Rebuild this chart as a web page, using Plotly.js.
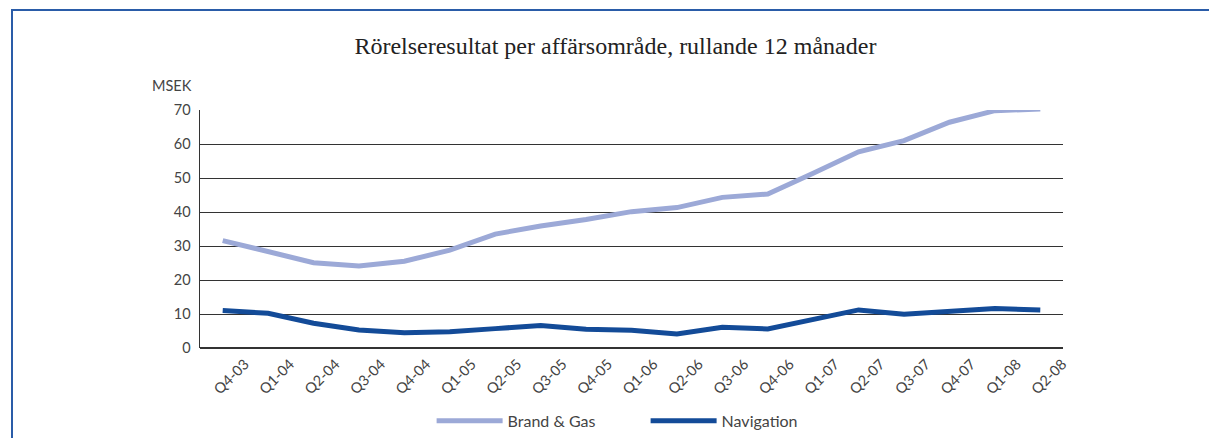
<!DOCTYPE html>
<html>
<head>
<meta charset="utf-8">
<script src="https://cdn.plot.ly/plotly-3.0.1.min.js"></script>
<style>
html,body{margin:0;padding:0;background:#fff;}
#wrap{position:relative;width:1209px;height:438px;}
#chart{width:1209px;height:438px;}
#frame{position:absolute;left:11px;top:9px;right:0;bottom:0;border-top:2px solid #2a5ca8;border-left:2px solid #2a5ca8;pointer-events:none;}
</style>
</head>
<body>
<div id="wrap"><div id="chart"></div><div id="frame"></div></div>
<script>
const categories = ["Q4-03","Q1-04","Q2-04","Q3-04","Q4-04","Q1-05","Q2-05","Q3-05","Q4-05","Q1-06","Q2-06","Q3-06","Q4-06","Q1-07","Q2-07","Q3-07","Q4-07","Q1-08","Q2-08"];
const brandGas = [31.6,28.3,25.1,24.1,25.5,28.8,33.5,35.9,37.8,40.1,41.3,44.3,45.3,51.4,57.7,61.0,66.4,69.8,70.3];
const navigation = [11.0,10.2,7.3,5.3,4.5,4.8,5.7,6.6,5.5,5.2,4.1,6.1,5.6,8.4,11.2,9.9,10.8,11.6,11.2];
const yTicks = [0,10,20,30,40,50,60,70];

const tickFont = {family: "Lato, 'Open Sans', sans-serif", size: 14.5, color: "#444"};
const legendFont = {family: "Lato, 'Open Sans', sans-serif", size: 16, color: "#444"};

const traces = [
  {x: categories, y: brandGas, name: "Brand & Gas", type: "scatter", mode: "lines",
   line: {color: "#9ca9d7", width: 5}},
  {x: categories, y: navigation, name: "Navigation", type: "scatter", mode: "lines",
   line: {color: "#134b98", width: 5}}
];

const layout = {
  width: 1209, height: 438,
  margin: {l: 200, r: 146, t: 110, b: 90},
  paper_bgcolor: "#fff", plot_bgcolor: "#fff",
  title: {text: "Rörelseresultat per affärsområde, rullande 12 månader",
    font: {family: "'Liberation Serif', 'DejaVu Serif', serif", size: 24, color: "#222"},
    xref: "container", x: 0.509, xanchor: "center",
    yref: "container", y: 0.897, yanchor: "middle"},
  xaxis: {type: "category", tickangle: -45, tickfont: tickFont,
    showgrid: false, zeroline: false, showline: false, ticks: "",
    ticklabelshift: 22, ticklabelstandoff: 4, range: [-0.5, 18.5]},
  yaxis: {range: [0, 70], tickvals: yTicks, tickfont: tickFont,
    showgrid: true, gridcolor: "#333", gridwidth: 1,
    zeroline: true, zerolinecolor: "#333", zerolinewidth: 1.5,
    showline: true, linecolor: "#333", linewidth: 1.5,
    ticks: "", ticklabelstandoff: 5, fixedrange: true},
  showlegend: true,
  legend: {orientation: "h", x: 0.357, xref: "container", xanchor: "left",
    y: 0.039, yref: "container", yanchor: "middle",
    font: legendFont, itemwidth: 66, entrywidth: 133, entrywidthmode: "pixels"},
  annotations: [{text: "MSEK", xref: "paper", yref: "paper", x: 0, y: 1,
    xanchor: "right", yanchor: "bottom", xshift: -6, yshift: 14,
    showarrow: false, font: tickFont}]
};

Plotly.newPlot("chart", traces, layout, {displayModeBar: false, staticPlot: true});
</script>
</body>
</html>
